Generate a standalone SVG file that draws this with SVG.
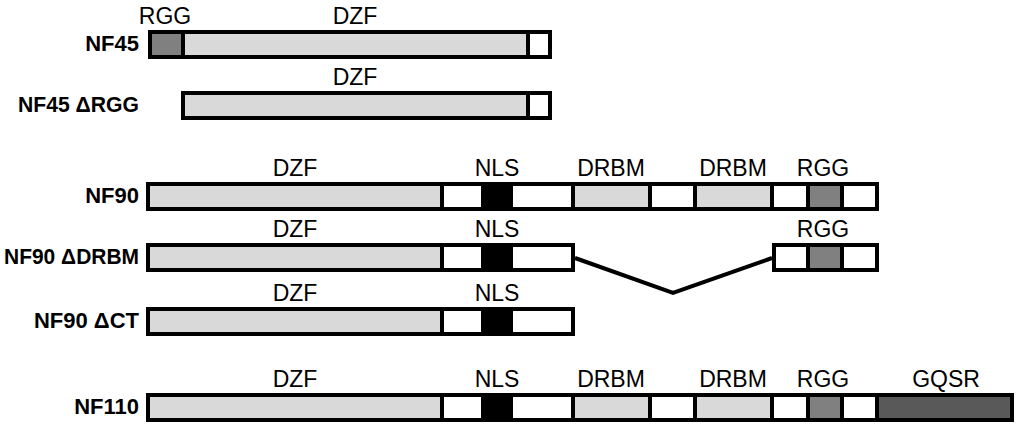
<svg xmlns="http://www.w3.org/2000/svg" width="1024" height="432" viewBox="0 0 1024 432">
<style>
.s{stroke:#000;stroke-width:4;stroke-linejoin:miter}
.w{fill:#fff}
.g{fill:#d9d9d9}
.r{fill:#808080}
.k{fill:#000}
.q{fill:#595959}
.lab{font-family:"Liberation Sans",Arial,sans-serif;font-size:23px;fill:#000;text-anchor:middle}
.nm{font-family:"Liberation Sans",Arial,sans-serif;font-size:22px;font-weight:bold;fill:#000;text-anchor:end}
.conn{fill:none;stroke:#000;stroke-width:4;stroke-linejoin:miter}
</style>
<rect width="1024" height="432" fill="#fff"/>

<g id="NF45">
<text class="nm" x="139" y="51">NF45</text>
<text class="lab" x="165" y="24">RGG</text>
<text class="lab" x="355" y="24">DZF</text>
<rect class="s r" x="150" y="32" width="33" height="25"/>
<rect class="s g" x="183" y="32" width="345" height="25"/>
<rect class="s w" x="528" y="32" width="22" height="25"/>
</g>

<g id="NF45dRGG">
<text class="nm" x="139" y="112" textLength="121" lengthAdjust="spacingAndGlyphs">NF45 ΔRGG</text>
<text class="lab" x="355" y="85">DZF</text>
<rect class="s g" x="183" y="93" width="345" height="25"/>
<rect class="s w" x="528" y="93" width="22" height="25"/>
</g>

<g id="NF90">
<text class="nm" x="139" y="203">NF90</text>
<text class="lab" x="295" y="176">DZF</text>
<text class="lab" x="497" y="176">NLS</text>
<text class="lab" x="611" y="176">DRBM</text>
<text class="lab" x="733" y="176">DRBM</text>
<text class="lab" x="823" y="176">RGG</text>
<rect class="s g" x="148" y="184" width="294" height="25"/>
<rect class="s w" x="442" y="184" width="41" height="25"/>
<rect class="s k" x="483" y="184" width="28" height="25"/>
<rect class="s w" x="511" y="184" width="62" height="25"/>
<rect class="s g" x="573" y="184" width="77" height="25"/>
<rect class="s w" x="650" y="184" width="45" height="25"/>
<rect class="s g" x="695" y="184" width="77" height="25"/>
<rect class="s w" x="772" y="184" width="36" height="25"/>
<rect class="s r" x="808" y="184" width="34" height="25"/>
<rect class="s w" x="842" y="184" width="35" height="25"/>
</g>

<g id="NF90dDRBM">
<text class="nm" x="139" y="264" textLength="135" lengthAdjust="spacingAndGlyphs">NF90 ΔDRBM</text>
<text class="lab" x="295" y="237">DZF</text>
<text class="lab" x="497" y="237">NLS</text>
<text class="lab" x="823" y="237">RGG</text>
<rect class="s g" x="148" y="245" width="294" height="25"/>
<rect class="s w" x="442" y="245" width="41" height="25"/>
<rect class="s k" x="483" y="245" width="28" height="25"/>
<rect class="s w" x="511" y="245" width="62" height="25"/>
<rect class="s w" x="774" y="245" width="34" height="25"/>
<rect class="s r" x="808" y="245" width="34" height="25"/>
<rect class="s w" x="842" y="245" width="35" height="25"/>
</g>

<g id="NF90dCT">
<text class="nm" x="139" y="328">NF90 ΔCT</text>
<text class="lab" x="295" y="301">DZF</text>
<text class="lab" x="497" y="301">NLS</text>
<rect class="s g" x="148" y="309" width="294" height="25"/>
<rect class="s w" x="442" y="309" width="41" height="25"/>
<rect class="s k" x="483" y="309" width="28" height="25"/>
<rect class="s w" x="511" y="309" width="62" height="25"/>
</g>

<g id="NF110">
<text class="nm" x="139" y="414">NF110</text>
<text class="lab" x="295" y="387">DZF</text>
<text class="lab" x="497" y="387">NLS</text>
<text class="lab" x="611" y="387">DRBM</text>
<text class="lab" x="733" y="387">DRBM</text>
<text class="lab" x="823" y="387">RGG</text>
<text class="lab" x="946" y="387">GQSR</text>
<rect class="s g" x="148" y="395" width="294" height="25"/>
<rect class="s w" x="442" y="395" width="41" height="25"/>
<rect class="s k" x="483" y="395" width="28" height="25"/>
<rect class="s w" x="511" y="395" width="62" height="25"/>
<rect class="s g" x="573" y="395" width="77" height="25"/>
<rect class="s w" x="650" y="395" width="45" height="25"/>
<rect class="s g" x="695" y="395" width="77" height="25"/>
<rect class="s w" x="772" y="395" width="36" height="25"/>
<rect class="s r" x="808" y="395" width="34" height="25"/>
<rect class="s w" x="842" y="395" width="35" height="25"/>
<rect class="s q" x="877" y="395" width="135" height="25"/>
</g>

<g id="connectors">
<polyline class="conn" points="575,258 673,293 772,258"/>
</g>
</svg>
